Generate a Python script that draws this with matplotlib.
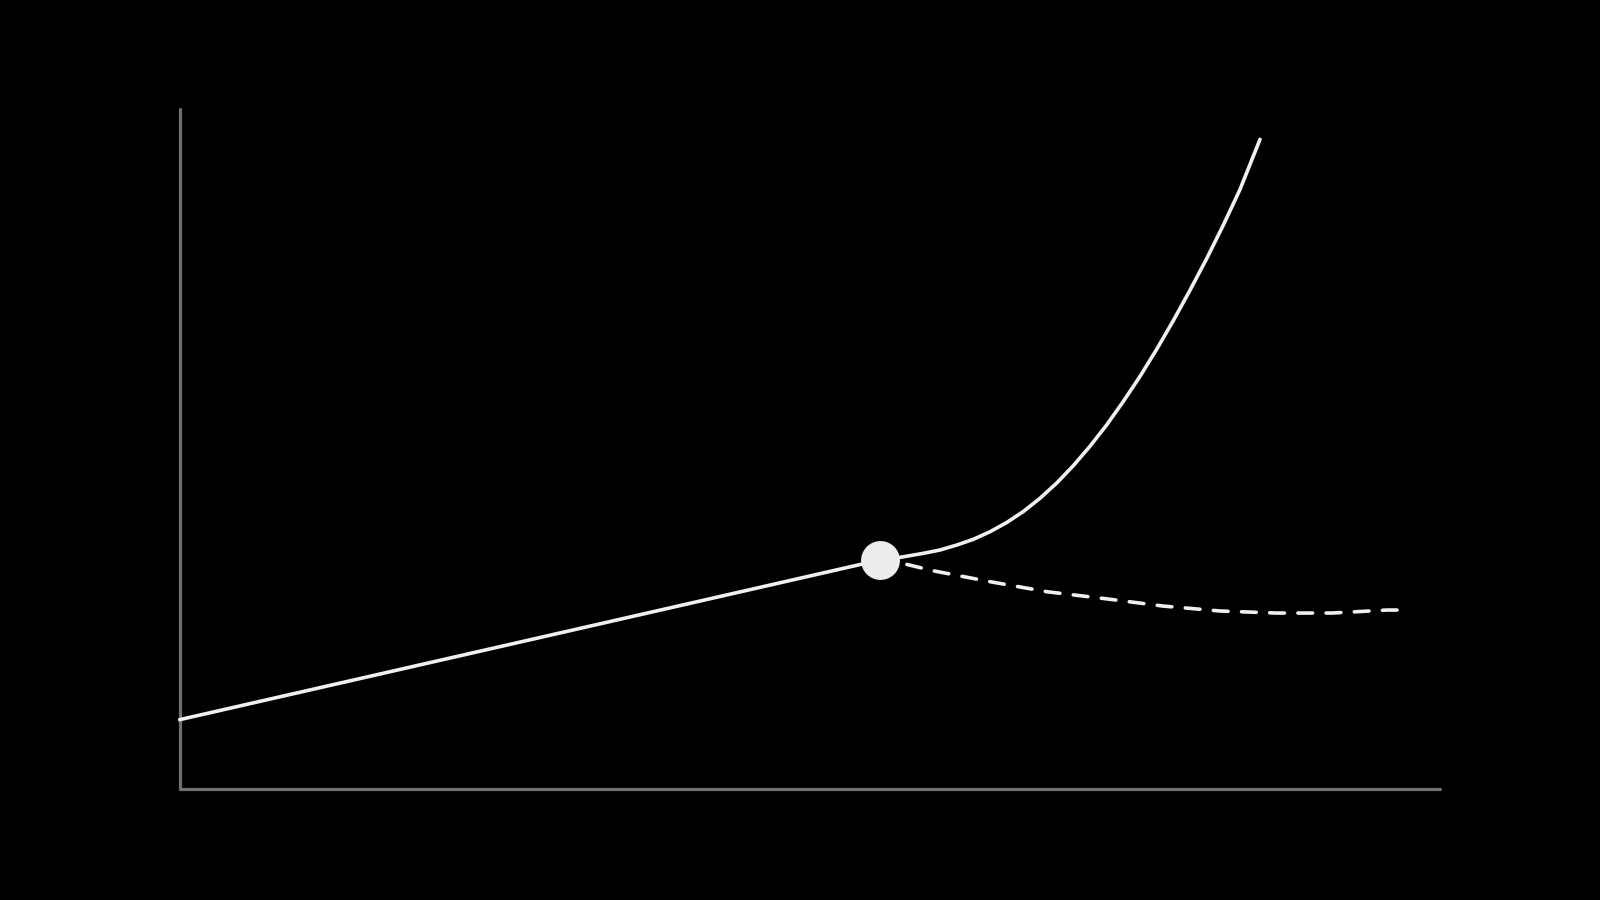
import numpy as np
import matplotlib
matplotlib.use("Agg")
import matplotlib.pyplot as plt

# values (axes span 0..100 on both axes)
base_x = [0.0, 55.57]
base_y = [10.2, 33.68]

growth_x = [55.57, 57.16, 59.01, 60.33, 61.66, 62.97, 64.30, 65.62, 66.94, 68.26, 69.59,
            70.91, 72.23, 73.56, 74.87, 76.20, 77.52, 78.84, 80.16, 81.49, 82.81, 84.13, 85.72]
growth_y = [33.68, 34.07, 34.66, 35.15, 35.88, 36.72, 37.84, 39.19, 40.81, 42.75, 45.00,
            47.56, 50.41, 53.56, 56.99, 60.69, 64.66, 68.88, 73.34, 78.01, 82.94, 88.16, 95.54]

flat_x = [55.57, 57.56, 59.77, 64.30, 68.82, 73.66, 78.02, 82.54, 86.99, 91.43, 95.80, 96.59]
flat_y = [33.68, 33.09, 32.10, 30.49, 29.01, 27.94, 26.91, 26.18, 25.88, 25.88, 26.32, 26.32]

pivot_x = [55.57]
pivot_y = [33.68]

line_col = "#f0f0f0"
axis_col = "#707070"

fig = plt.figure(figsize=(16, 9), dpi=100, facecolor="black")
ax = fig.add_axes([0.1123, 0.1233, 0.7877, 0.7556])
ax.set_facecolor("black")

ax.plot(base_x, base_y, color=line_col, lw=2.6, solid_capstyle="round",
        solid_joinstyle="round", clip_on=False, zorder=3)
ax.plot(growth_x, growth_y, color=line_col, lw=2.6, solid_capstyle="round",
        solid_joinstyle="round", clip_on=False, zorder=3)
ax.plot(flat_x, flat_y, color=line_col, lw=2.6, linestyle=(0.27, (4.07, 3.74)),
        dash_capstyle="round", clip_on=False, zorder=3)
ax.plot(pivot_x, pivot_y, "o", color="#ececee", markersize=28, markeredgewidth=0,
        clip_on=False, zorder=4)

ax.set_xlim(0, 100)
ax.set_ylim(0, 100)
for side in ["top", "right"]:
    ax.spines[side].set_visible(False)
for side in ["left", "bottom"]:
    ax.spines[side].set_color(axis_col)
    ax.spines[side].set_linewidth(2.3)
    ax.spines[side].set_capstyle("round")
ax.set_xticks([])
ax.set_yticks([])

fig.savefig("out.png", dpi=100, facecolor="black")
